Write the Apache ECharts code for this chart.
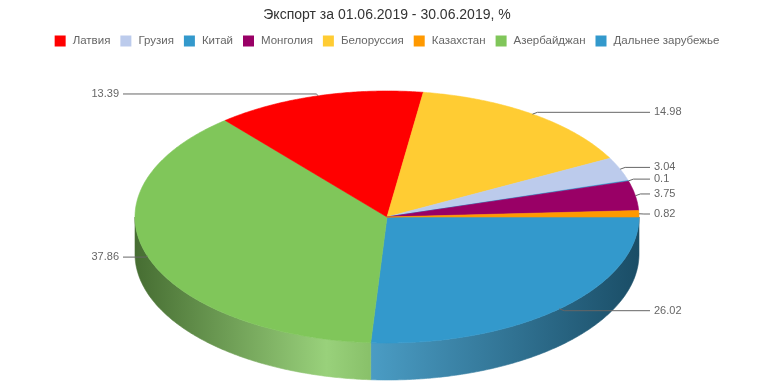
<!DOCTYPE html>
<html><head><meta charset="utf-8">
<script src="https://cdn.jsdelivr.net/npm/echarts@6/dist/echarts.min.js"></script>
<style>html,body{margin:0;padding:0;background:#fff}#c{width:774px;height:387px}</style>
</head><body><div id="c"></div>
<script>
// ---- data ----
const titleText = 'Экспорт за 01.06.2019 - 30.06.2019, %';
// slices in drawing order, clockwise starting at 3 o'clock
const sliceNames = ['Дальнее зарубежье', 'Азербайджан', 'Латвия', 'Белоруссия', 'Грузия', 'Китай', 'Монголия', 'Казахстан'];
const sliceValues = [26.02, 37.86, 13.39, 14.98, 3.04, 0.1, 3.75, 0.82];
const legendOrder = ['Латвия', 'Грузия', 'Китай', 'Монголия', 'Белоруссия', 'Казахстан', 'Азербайджан', 'Дальнее зарубежье'];

// ---- styles ----
const colorMap = {
  'Латвия': '#ff0000', 'Грузия': '#bccbec', 'Китай': '#3399cc', 'Монголия': '#990066',
  'Белоруссия': '#ffcc33', 'Казахстан': '#ff9900', 'Азербайджан': '#80c65a', 'Дальнее зарубежье': '#3399cc'
};
const FONT = '"Liberation Sans", Arial, sans-serif';

function hex2rgb(h){ h=h.replace('#',''); return [parseInt(h.substr(0,2),16),parseInt(h.substr(2,2),16),parseInt(h.substr(4,2),16)]; }
function rgb(a){ return 'rgb(' + a.map(v=>Math.max(0,Math.min(255,Math.round(v)))).join(',') + ')'; }
function mul(c,f){ return rgb(hex2rgb(c).map(v=>v*f)); }
function mixW(c,t,f){ f = f||1; return rgb(hex2rgb(c).map(v=>(v+(255-v)*t)*f)); }

const total = sliceValues.reduce((a,b)=>a+b,0);
const startA = [], endA = [];
(function(){ let acc = 0; sliceValues.forEach(v=>{ startA.push(acc/total*360); acc += v; endA.push(acc/total*360); }); })();

function makeRender(i){
  return function(params, api){
    const W = api.getWidth();
    const cx = W/2, cy = 217, rx = 252, ry = 126, depth = 37;
    const color = colorMap[sliceNames[i]];
    const a0 = startA[i], a1 = endA[i];
    const rad = a => a*Math.PI/180;
    const pt = (a, dy) => [cx + rx*Math.cos(rad(a)), cy + ry*Math.sin(rad(a)) + (dy||0)];
    const children = [];
    // top face
    const top = [[cx, cy]];
    const n = Math.max(2, Math.ceil((a1-a0)/0.5));
    for (let k=0;k<=n;k++) top.push(pt(a0+(a1-a0)*k/n));
    children.push({type:'polygon', shape:{points:top}, style:{fill:color, stroke:color, lineWidth:0.6}, z2:10});
    // outer wall (front half only)
    const s0 = Math.max(a0, 0), s1 = Math.min(a1, 180);
    if (s1 > s0) {
      const m = Math.max(2, Math.ceil((s1-s0)/0.5));
      const wall = [];
      for (let k=0;k<=m;k++) wall.push(pt(s0+(s1-s0)*k/m));
      for (let k=m;k>=0;k--) wall.push(pt(s0+(s1-s0)*k/m, depth));
      const grad = {type:'linear', x:cx-rx, y:0, x2:cx+rx, y2:0, global:true, colorStops:[
        {offset:0, color:mul(color,0.55)},
        {offset:0.38, color:mixW(color,0.2,1)},
        {offset:0.47, color:mixW(color,0.14,0.93)},
        {offset:1, color:mul(color,0.5)}
      ]};
      children.push({type:'polygon', shape:{points:wall}, style:{fill:grad, stroke:grad, lineWidth:0.6}, z2:5});
    }
    // label + leader
    const mid = (a0+a1)/2;
    const e = pt(mid);
    const sn = Math.sin(rad(mid));
    const right = Math.cos(rad(mid)) >= 0;
    const ly = e[1] + (sn < -0.05 ? -1.8 : 2*sn + 0.3);
    const lx = right ? cx+rx+15 : cx-rx-16;
    children.push({type:'polyline', shape:{points:[e, [e[0]+(right?5:-2), ly], [right?lx-4:lx+4, ly]]},
      style:{stroke:'#666', lineWidth:1, fill:null}, z2:20});
    children.push({type:'text', style:{text:String(api.value(0)), x:lx, y:ly, fill:'#666', font:'11px '+FONT,
      align:right?'left':'right', verticalAlign:'middle'}, z2:21});
    return {type:'group', children};
  };
}

const series = sliceNames.map((nm,i)=>({
  type:'custom', name:nm, coordinateSystem:'none',
  itemStyle:{color:colorMap[nm]},
  data:[[sliceValues[i]]],
  renderItem: makeRender(i),
  animation:false
}));

const chart = echarts.init(document.getElementById('c'), null, {renderer:'canvas'});
chart.setOption({
  backgroundColor:'#fff',
  animation:false,
  title:{text:titleText, left:'center', top:3, textStyle:{fontFamily:FONT, fontSize:14, fontWeight:'normal', color:'#333'}},
  legend:{data:legendOrder, top:30, left:'center', icon:'rect', itemWidth:11, itemHeight:11, itemGap:10,
    textStyle:{fontFamily:FONT, fontSize:11.5, color:'#666', padding:[0,0,0,2]}},
  series: series
});
</script></body></html>
